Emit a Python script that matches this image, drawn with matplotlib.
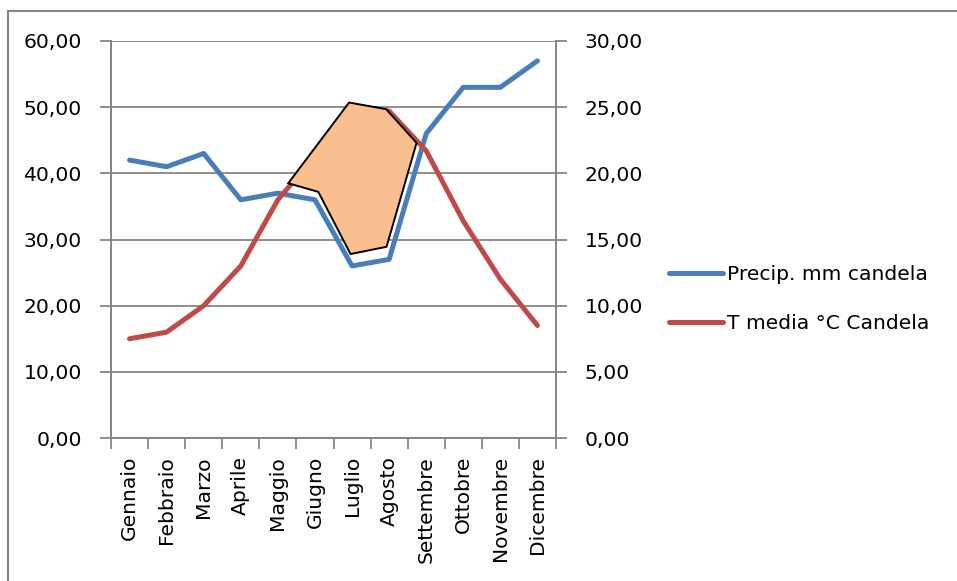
import numpy as np
import matplotlib
matplotlib.use('Agg')
import matplotlib.pyplot as plt
from matplotlib.lines import Line2D
from matplotlib.patches import Polygon
from matplotlib.ticker import FuncFormatter, MultipleLocator

mesi = ['Gennaio', 'Febbraio', 'Marzo', 'Aprile', 'Maggio', 'Giugno',
        'Luglio', 'Agosto', 'Settembre', 'Ottobre', 'Novembre', 'Dicembre']
precip = [42, 41, 43, 36, 37, 36, 26, 27, 46, 53, 53, 57]
t_media = [7.5, 8, 10, 13, 18, 21.3, 25, 24.7, 21.7, 16.4, 12, 8.5]

# forma disegnata a mano sopra il grafico (indice mese, mm asse sinistro)
forma_x = [4.28, 5.09, 5.96, 6.93, 7.74, 6.92, 5.92]
forma_y = [38.5, 37.2, 27.8, 28.9, 44.6, 49.7, 50.7]

BLU = '#4A7EBB'
ROSSO = '#BE4B48'
GRIGIO = '#868686'


def virgola(v, pos):
    return f'{v:.2f}'.replace('.', ',')


plt.rcParams['font.family'] = ['DejaVu Sans']
fig = plt.figure(figsize=(9.57, 5.81), dpi=100)
ax = fig.add_axes([111 / 957, 1 - 438 / 581, 445 / 957, 397 / 581])
ax2 = ax.twinx()

x = np.arange(len(mesi))
ax.plot(x, precip, color=BLU, lw=3.6, solid_capstyle='round',
        solid_joinstyle='round', label='Precip. mm candela', zorder=3)
ax2.plot(x, t_media, color=ROSSO, lw=3.6, solid_capstyle='round',
         solid_joinstyle='round', label='T media °C Candela', zorder=3)

ax.set_xlim(-0.5, len(mesi) - 0.5)
ax.set_ylim(0, 60)
ax2.set_ylim(0, 30)
ax.yaxis.set_major_locator(MultipleLocator(10))
ax2.yaxis.set_major_locator(MultipleLocator(5))
ax.yaxis.set_major_formatter(FuncFormatter(virgola))
ax2.yaxis.set_major_formatter(FuncFormatter(virgola))

# tacche ai confini delle categorie, etichette al centro
ax.set_xticks(np.arange(-0.5, len(mesi)), minor=False)
ax.set_xticklabels([])
ax.set_xticks(x, minor=True)
ax.set_xticklabels(mesi, minor=True, rotation=90, fontsize=14.6, va='top')
ax.tick_params(axis='x', which='minor', length=0, pad=13)
ax.tick_params(axis='x', which='major', length=8, width=1.3, color=GRIGIO)

ax.tick_params(axis='y', labelsize=14.6, length=8, width=1.3,
               color=GRIGIO, pad=13)
ax2.tick_params(axis='y', labelsize=14.6, length=8, width=1.3,
                color=GRIGIO, pad=12.5)

ax.grid(axis='y', color=GRIGIO, lw=1.3)
ax.set_axisbelow(True)
for a in (ax, ax2):
    a.spines['top'].set_visible(False)
    for s in ('left', 'right', 'bottom'):
        a.spines[s].set_color(GRIGIO)
        a.spines[s].set_linewidth(1.3)

forma = Polygon(np.column_stack([forma_x, forma_y]), closed=True,
                facecolor='#F9BF8F', edgecolor='black', lw=1.4,
                transform=ax.transData, zorder=5)
ax2.add_patch(forma)

h1, l1 = ax.get_legend_handles_labels()
h2, l2 = ax2.get_legend_handles_labels()
fig.legend(h1 + h2, l1 + l2, loc='center left',
           bbox_to_anchor=(669 / 957, 1 - 299 / 581), frameon=False,
           fontsize=14.6, handlelength=2.65, handletextpad=0.2,
           labelspacing=1.45, borderpad=0, borderaxespad=0)

# cornice esterna (visibile solo in alto e a sinistra)
fig.add_artist(Line2D([8 / 957, 1], [1 - 11 / 581, 1 - 11 / 581],
                      transform=fig.transFigure, color=GRIGIO, lw=1.5))
fig.add_artist(Line2D([8 / 957, 8 / 957], [0, 1 - 11 / 581],
                      transform=fig.transFigure, color=GRIGIO, lw=1.5))

plt.savefig('out.png', dpi=100)
